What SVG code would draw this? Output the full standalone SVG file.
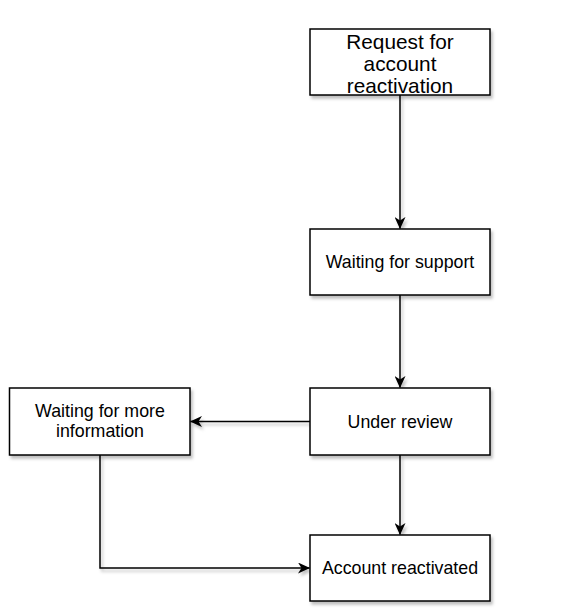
<svg xmlns="http://www.w3.org/2000/svg" width="586" height="615" viewBox="0 0 586 615">
<style>
.box{fill:#fff;stroke:#000;stroke-width:1.5;filter:url(#sh)}
.t{font-family:"Liberation Sans",Arial,Helvetica,sans-serif;font-size:17.8px;fill:#000;text-anchor:middle}
.big{font-size:20.8px}
.c{fill:none;stroke:#000;stroke-width:1.5;filter:url(#sh)}
</style>
<defs>
<filter id="sh" filterUnits="userSpaceOnUse" x="0" y="0" width="586" height="615">
<feDropShadow dx="2" dy="3" stdDeviation="1.5" flood-color="#000" flood-opacity="0.25"/>
</filter>
<marker id="ar" viewBox="0 0 12 11" refX="11.5" refY="5.5" markerWidth="12" markerHeight="11" markerUnits="userSpaceOnUse" orient="auto">
<path d="M0,0 L12,5.5 L0,11 L3.5,5.5 Z" fill="#000"/>
</marker>
</defs>
<g id="connectors">
<path class="c" d="M400,95 V228.5" marker-end="url(#ar)"/>
<path class="c" d="M400,295 V387.5" marker-end="url(#ar)"/>
<path class="c" d="M310,421.5 H190.5" marker-end="url(#ar)"/>
<path class="c" d="M400,455 V534.5" marker-end="url(#ar)"/>
<path class="c" d="M100,455 V568 H309.5" marker-end="url(#ar)"/>
</g>
<g id="request">
<rect class="box" x="310" y="29" width="180" height="66"/>
<text class="t big" x="400" y="49">Request for</text>
<text class="t big" x="400" y="71">account</text>
<text class="t big" x="400" y="93">reactivation</text>
</g>
<g id="waiting-support">
<rect class="box" x="310" y="229" width="180" height="66"/>
<text class="t" x="400" y="268">Waiting for support</text>
</g>
<g id="under-review">
<rect class="box" x="310" y="388" width="180" height="67"/>
<text class="t" x="400" y="428">Under review</text>
</g>
<g id="waiting-info">
<rect class="box" x="9.5" y="388" width="180.5" height="67"/>
<text class="t" x="100" y="417">Waiting for more</text>
<text class="t" x="100" y="437">information</text>
</g>
<g id="reactivated">
<rect class="box" x="310" y="535" width="180" height="66"/>
<text class="t" x="400" y="574">Account reactivated</text>
</g>
</svg>
